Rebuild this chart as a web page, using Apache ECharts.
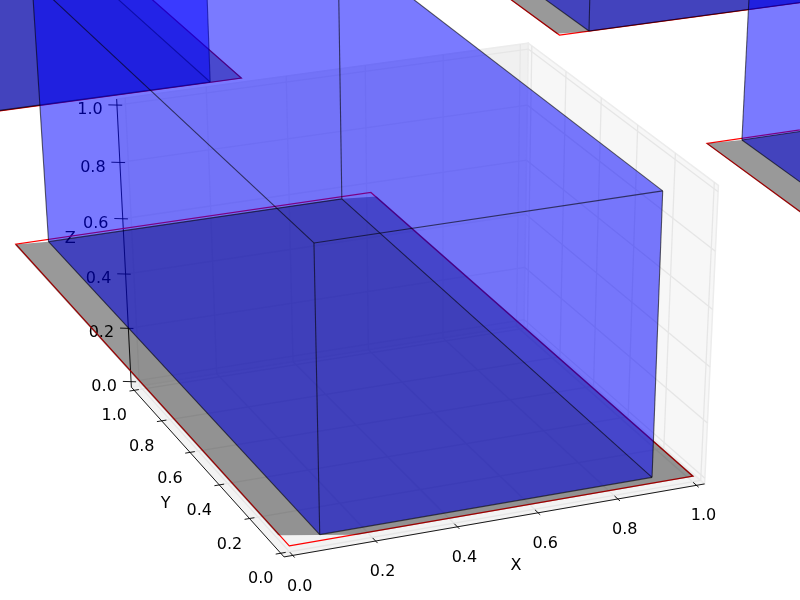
<!DOCTYPE html><html><head><meta charset="utf-8"><style>html,body{margin:0;background:#fff}#c{width:800px;height:600px}</style>
<script src="https://cdn.jsdelivr.net/npm/echarts@6/dist/echarts.min.js"></script></head><body><div id="c"></div><script>
// Data: one entry per plane / bar unit
const planeX=[0,2,2,0];
const planeY=[3,3,0,0];
const planeSizeX=1;
const planeSizeY=2;
const barX0=[0.09,0.096,0.101,0.085];
const barX1=[0.906,0.91,0.91,0.91];
const barY0=[0.003,0.001,0.03,0.03];
const barY1=[1.985,1.985,1.988,1.985];
const barHeight=1;
const shadeCutX=[0.03,0.096,0.164,0.164];
const shadeCutY=[0.01,0.015,0.062,0.062];
const xTicks=[0,0.2,0.4,0.6,0.8,1];
const yTicks=[0,0.2,0.4,0.6,0.8,1];
const zTicks=[0,0.2,0.4,0.6,0.8,1];
const tickLabels=['0.0','0.2','0.4','0.6','0.8','1.0'];
// Camera fitted to the picture (3D -> page pixels)
const CAM=[[426.3993,-135.4269,-20.969,289.2582],[-54.0472,-130.5548,-304.9382,545.9342],[0.032945,0.083122,-0.048246,1]];
const pad=1/48, lo=-pad, hi=1+pad;
const FONT='"DejaVu Sans"', FS=16;
function proj(x,y,z){const w=CAM[2][0]*x+CAM[2][1]*y+CAM[2][2]*z+1;
 return [(CAM[0][0]*x+CAM[0][1]*y+CAM[0][2]*z+CAM[0][3])/w,(CAM[1][0]*x+CAM[1][1]*y+CAM[1][2]*z+CAM[1][3])/w];}
function P(api,a){return api.coord(proj(a[0],a[1],a[2]));}
function poly(api,pts,style){return {type:'polygon',shape:{points:pts.map(q=>P(api,q))},style};}
function seg(api,a,b,stroke,w){const A=P(api,a),B=P(api,b);return {type:'line',shape:{x1:A[0],y1:A[1],x2:B[0],y2:B[1]},style:{stroke,lineWidth:w,fill:null}};}
function txt(api,a,dx,dy,s){const A=P(api,a);return {type:'text',x:A[0]+dx,y:A[1]+dy,style:{text:s,font:FS+'px '+FONT,fill:'#000',align:'center',verticalAlign:'middle'}};}

function frame(params,api){
 const ch=[];
 ch.push(poly(api,[[lo,lo,lo],[hi,lo,lo],[hi,hi,lo],[lo,hi,lo]],{fill:'#f3f3f3',stroke:'#ececec',lineWidth:1}));
 ch.push(poly(api,[[lo,hi,lo],[hi,hi,lo],[hi,hi,hi],[lo,hi,hi]],{fill:'#f0f0f0',stroke:'#ececec',lineWidth:1.5}));
 ch.push(poly(api,[[hi,lo,lo],[hi,hi,lo],[hi,hi,hi],[hi,lo,hi]],{fill:'#f7f7f7',stroke:'#ececec',lineWidth:1.5}));
 const g='#e6e6e6', gw=1.3;
 xTicks.forEach(t=>{ch.push(seg(api,[t,lo,lo],[t,hi,lo],g,gw));ch.push(seg(api,[t,hi,lo],[t,hi,hi],g,gw));});
 yTicks.forEach(t=>{ch.push(seg(api,[lo,t,lo],[hi,t,lo],g,gw));ch.push(seg(api,[hi,t,lo],[hi,t,hi],g,gw));});
 zTicks.forEach(t=>{ch.push(seg(api,[lo,hi,t],[hi,hi,t],g,gw));ch.push(seg(api,[hi,hi,t],[hi,lo,t],g,gw));});
 const k='#000';
 ch.push(seg(api,[lo,lo,lo],[hi,lo,lo],k,0.9));
 ch.push(seg(api,[lo,lo,lo],[lo,hi,lo],k,0.9));
 ch.push(seg(api,[lo,hi,lo],[lo,hi,hi],k,0.9));
 xTicks.forEach((t,i)=>{ch.push(seg(api,[t,lo-0.012,lo],[t,lo+0.018,lo],k,0.9));ch.push(txt(api,[t,lo,lo],7,31,tickLabels[i]));});
 yTicks.forEach((t,i)=>{ch.push(seg(api,[lo-0.012,t,lo],[lo+0.012,t,lo],k,0.9));ch.push(txt(api,[lo,t,lo],-20,26,tickLabels[i]));});
 zTicks.forEach((t,i)=>{ch.push(seg(api,[lo-0.018,hi+0.009,t],[lo+0.011,hi-0.0055,t],k,0.9));ch.push(txt(api,[lo,hi,t],-27,5,tickLabels[i]));});
 ch.push(txt(api,[0.5,lo,lo],18,46,'X'));
 ch.push(txt(api,[lo,0.5,lo],-39,35,'Y'));
 ch.push(txt(api,[lo,hi,0.5],-54,-8,'Z'));
 return {type:'group',children:ch};
}
function unit(params,api){
 const i=params.dataIndex, ox=api.value(0), oy=api.value(1), ch=[];
 const q=(x,y,z)=>[ox+x,oy+y,z];
 const x0=barX0[i],x1=barX1[i],y0=barY0[i],y1=barY1[i],h=barHeight,o=0.003;
 ch.push(poly(api,[q(0,0,0),q(planeSizeX,0,0),q(planeSizeX,planeSizeY,0),q(0,planeSizeY,0)],{fill:'none',stroke:'#ff0000',lineWidth:1.2}));
 ch.push(poly(api,[q(-o,planeSizeY,0),q(x0,y1,0),q(x1,y1,0),q(planeSizeX+o,y1-0.02,0),q(planeSizeX+o,-o,0),q(shadeCutX[i],-o,0),q(-o,shadeCutY[i],0)],{fill:'rgba(0,0,0,0.4)'}));
 ch.push(poly(api,[q(x0,y0,0),q(x1,y0,0),q(x1,y0,h),q(x1,y1,h),q(x0,y1,h),q(x0,y1,0)],{fill:'rgba(0,0,255,0.52)'}));
 ch.push(poly(api,[q(x0,y0,0),q(x1,y0,0),q(x1,y1,0),q(x0,y1,0)],{fill:'rgba(0,0,0,0.08)'}));
 const e='rgba(0,0,0,0.6)';
 [[x0,y0,x1,y0],[x1,y0,x1,y1],[x1,y1,x0,y1],[x0,y1,x0,y0]].forEach(s=>{
  ch.push(seg(api,q(s[0],s[1],0),q(s[2],s[3],0),e,1.1));
  ch.push(seg(api,q(s[0],s[1],h),q(s[2],s[3],h),e,1.1));
  ch.push(seg(api,q(s[0],s[1],0),q(s[0],s[1],h),e,1.1));
 });
 return {type:'group',children:ch};
}
const chart=echarts.init(document.getElementById('c'),null,{renderer:'canvas',width:800,height:600});
chart.setOption({
 animation:false,backgroundColor:'#fff',
 grid:{left:0,right:0,top:0,bottom:0},
 xAxis:{type:'value',min:0,max:800,show:false},
 yAxis:{type:'value',min:0,max:600,inverse:true,show:false},
 series:[
  {type:'custom',coordinateSystem:'cartesian2d',clip:false,silent:true,z:1,data:[[0]],renderItem:frame,encode:{x:[],y:[]}},
  {type:'custom',coordinateSystem:'cartesian2d',clip:false,silent:true,z:2,data:planeX.map((x,i)=>[x,planeY[i]]),renderItem:unit,encode:{x:[],y:[]}}
 ]
});
</script></body></html>
